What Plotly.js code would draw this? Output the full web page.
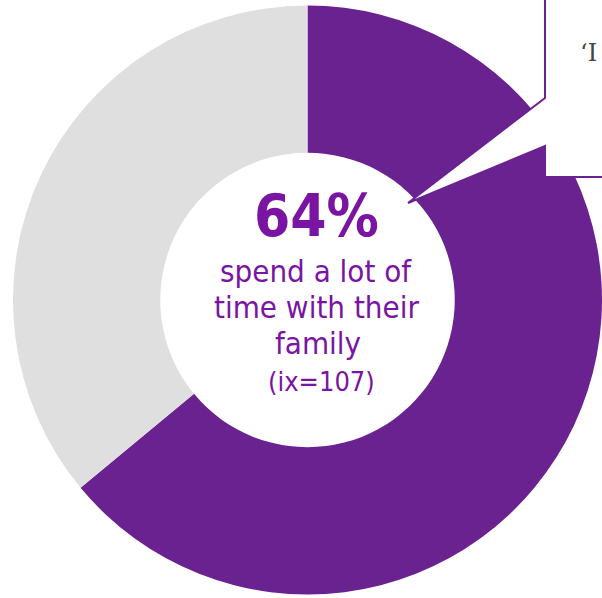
<!DOCTYPE html>
<html>
<head>
<meta charset="utf-8">
<script src="https://cdn.plot.ly/plotly-3.0.1.min.js"></script>
<style>html,body{margin:0;padding:0;background:#fff;}#chart{width:602px;height:598px;}</style>
</head>
<body>
<div id="chart"></div>
<script>
const categories = ["Spend a lot of time with their family", "Other"];
const values = [64, 36];
const sliceColors = ["#6A2291", "#DFDFDF"];
const headline = "64%";
const captionLines = ["spend a lot of", "time with their", "family"];
const indexLabel = "(ix=107)";
const quoteText = "\u2018I";

const W = 602, H = 598;
const px = x => x / W;
const py = y => 1 - y / H;

const trace = {
  type: "pie",
  labels: categories,
  values: values,
  sort: false,
  direction: "clockwise",
  rotation: 0,
  hole: 0.5,
  marker: {colors: sliceColors, line: {width: 0}},
  textinfo: "none",
  hoverinfo: "none",
  showlegend: false,
  domain: {x: [px(13), 1], y: [py(595), py(5)]}
};

const textColor = "#7A14A3";
const font = "Tahoma, 'DejaVu Sans Condensed', 'DejaVu Sans', sans-serif";
const annotations = [
  {text: "<b>" + headline + "</b>", x: px(316), y: py(216), font: {size: 58, color: textColor, family: font}},
  {text: captionLines[0], x: px(316), y: py(271), font: {size: 31, color: textColor, family: font}},
  {text: captionLines[1], x: px(316), y: py(307), font: {size: 31, color: textColor, family: font}},
  {text: captionLines[2], x: px(318), y: py(343), font: {size: 31, color: textColor, family: font}},
  {text: indexLabel, x: px(321), y: py(381), font: {size: 27, color: textColor, family: font}},
  {text: quoteText, x: px(599), y: py(53), xanchor: "right", font: {size: 24, color: "#444444", family: "'DejaVu Serif', serif"}}
].map(a => Object.assign({xref: "paper", yref: "paper", showarrow: false, xanchor: "center", yanchor: "middle"}, a));

const calloutPath = [
  [545, -5], [545, 98], [408, 203], [545, 146], [545, 177], [610, 177], [610, -5]
].map((p, i) => (i ? "L" : "M") + px(p[0]) + "," + py(p[1])).join(" ") + " Z";

const layout = {
  width: W, height: H,
  margin: {l: 0, r: 0, t: 0, b: 0},
  paper_bgcolor: "#ffffff",
  plot_bgcolor: "#ffffff",
  showlegend: false,
  annotations: annotations,
  shapes: [{
    type: "path", xref: "paper", yref: "paper", path: calloutPath,
    fillcolor: "#ffffff", line: {color: "#6A2291", width: 2}, layer: "above"
  }]
};

Plotly.newPlot("chart", [trace], layout, {displayModeBar: false, staticPlot: true});
</script>
</body>
</html>
